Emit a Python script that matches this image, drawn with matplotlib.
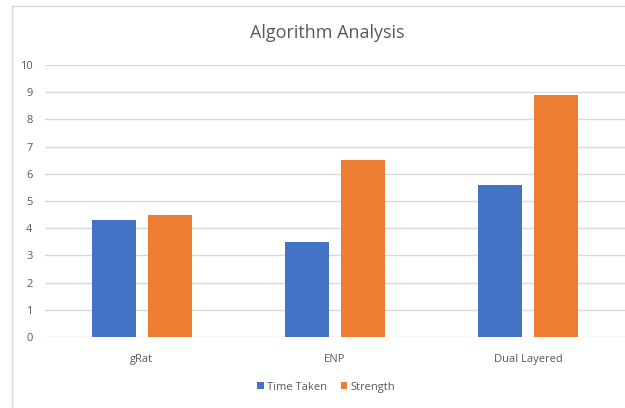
import numpy as np
import matplotlib
matplotlib.use('Agg')
import matplotlib.pyplot as plt
from matplotlib.patches import Rectangle

categories = ["gRat", "ENP", "Dual Layered"]
time_taken = [4.3, 3.5, 5.6]
strength = [4.5, 6.5, 8.9]
y_ticks = list(range(0, 11))

plt.rcParams['font.family'] = ['Open Sans', 'DejaVu Sans']
TEXT = '#595959'
GRID = '#d9d9d9'

fig = plt.figure(figsize=(6.25, 4.08), dpi=100)
fig.patch.set_facecolor('white')

# chart area border (runs off the right/bottom edge)
fig.patches.append(Rectangle((12 / 625, -0.1), 1.0, 1 - 6 / 408 + 0.1,
                             transform=fig.transFigure, fill=False,
                             edgecolor=GRID, linewidth=1.0))

ax = fig.add_axes([0.072, 0.174, 0.928, 0.667])
x = np.arange(len(categories))
w = 0.228
off = 0.145
ax.bar(x - off, time_taken, w, color='#4472c4', label='Time Taken', zorder=3)
ax.bar(x + off, strength, w, color='#ed7d31', label='Strength', zorder=3)

ax.set_xlim(-0.5, 2.5)
ax.set_ylim(0, 10)
ax.set_yticks(y_ticks)
ax.set_xticks(x)
ax.set_xticklabels(categories)
ax.tick_params(axis='both', length=0, colors=TEXT, labelsize=8)
ax.tick_params(axis='y', pad=9)
ax.tick_params(axis='x', pad=12)
ax.grid(axis='y', color=GRID, linewidth=1.0, zorder=0)
for s in ax.spines.values():
    s.set_visible(False)

fig.text(0.523, 0.918, "Algorithm Analysis", ha='center', va='center',
         fontsize=13, color=TEXT)

ax.legend(loc='center', bbox_to_anchor=(0.485, -0.185), ncol=2, frameon=False,
          fontsize=8, handlelength=0.6, handleheight=0.6, handletextpad=0.3,
          columnspacing=1.2, labelcolor=TEXT)

plt.savefig('out.png', dpi=100)
plt.close()
